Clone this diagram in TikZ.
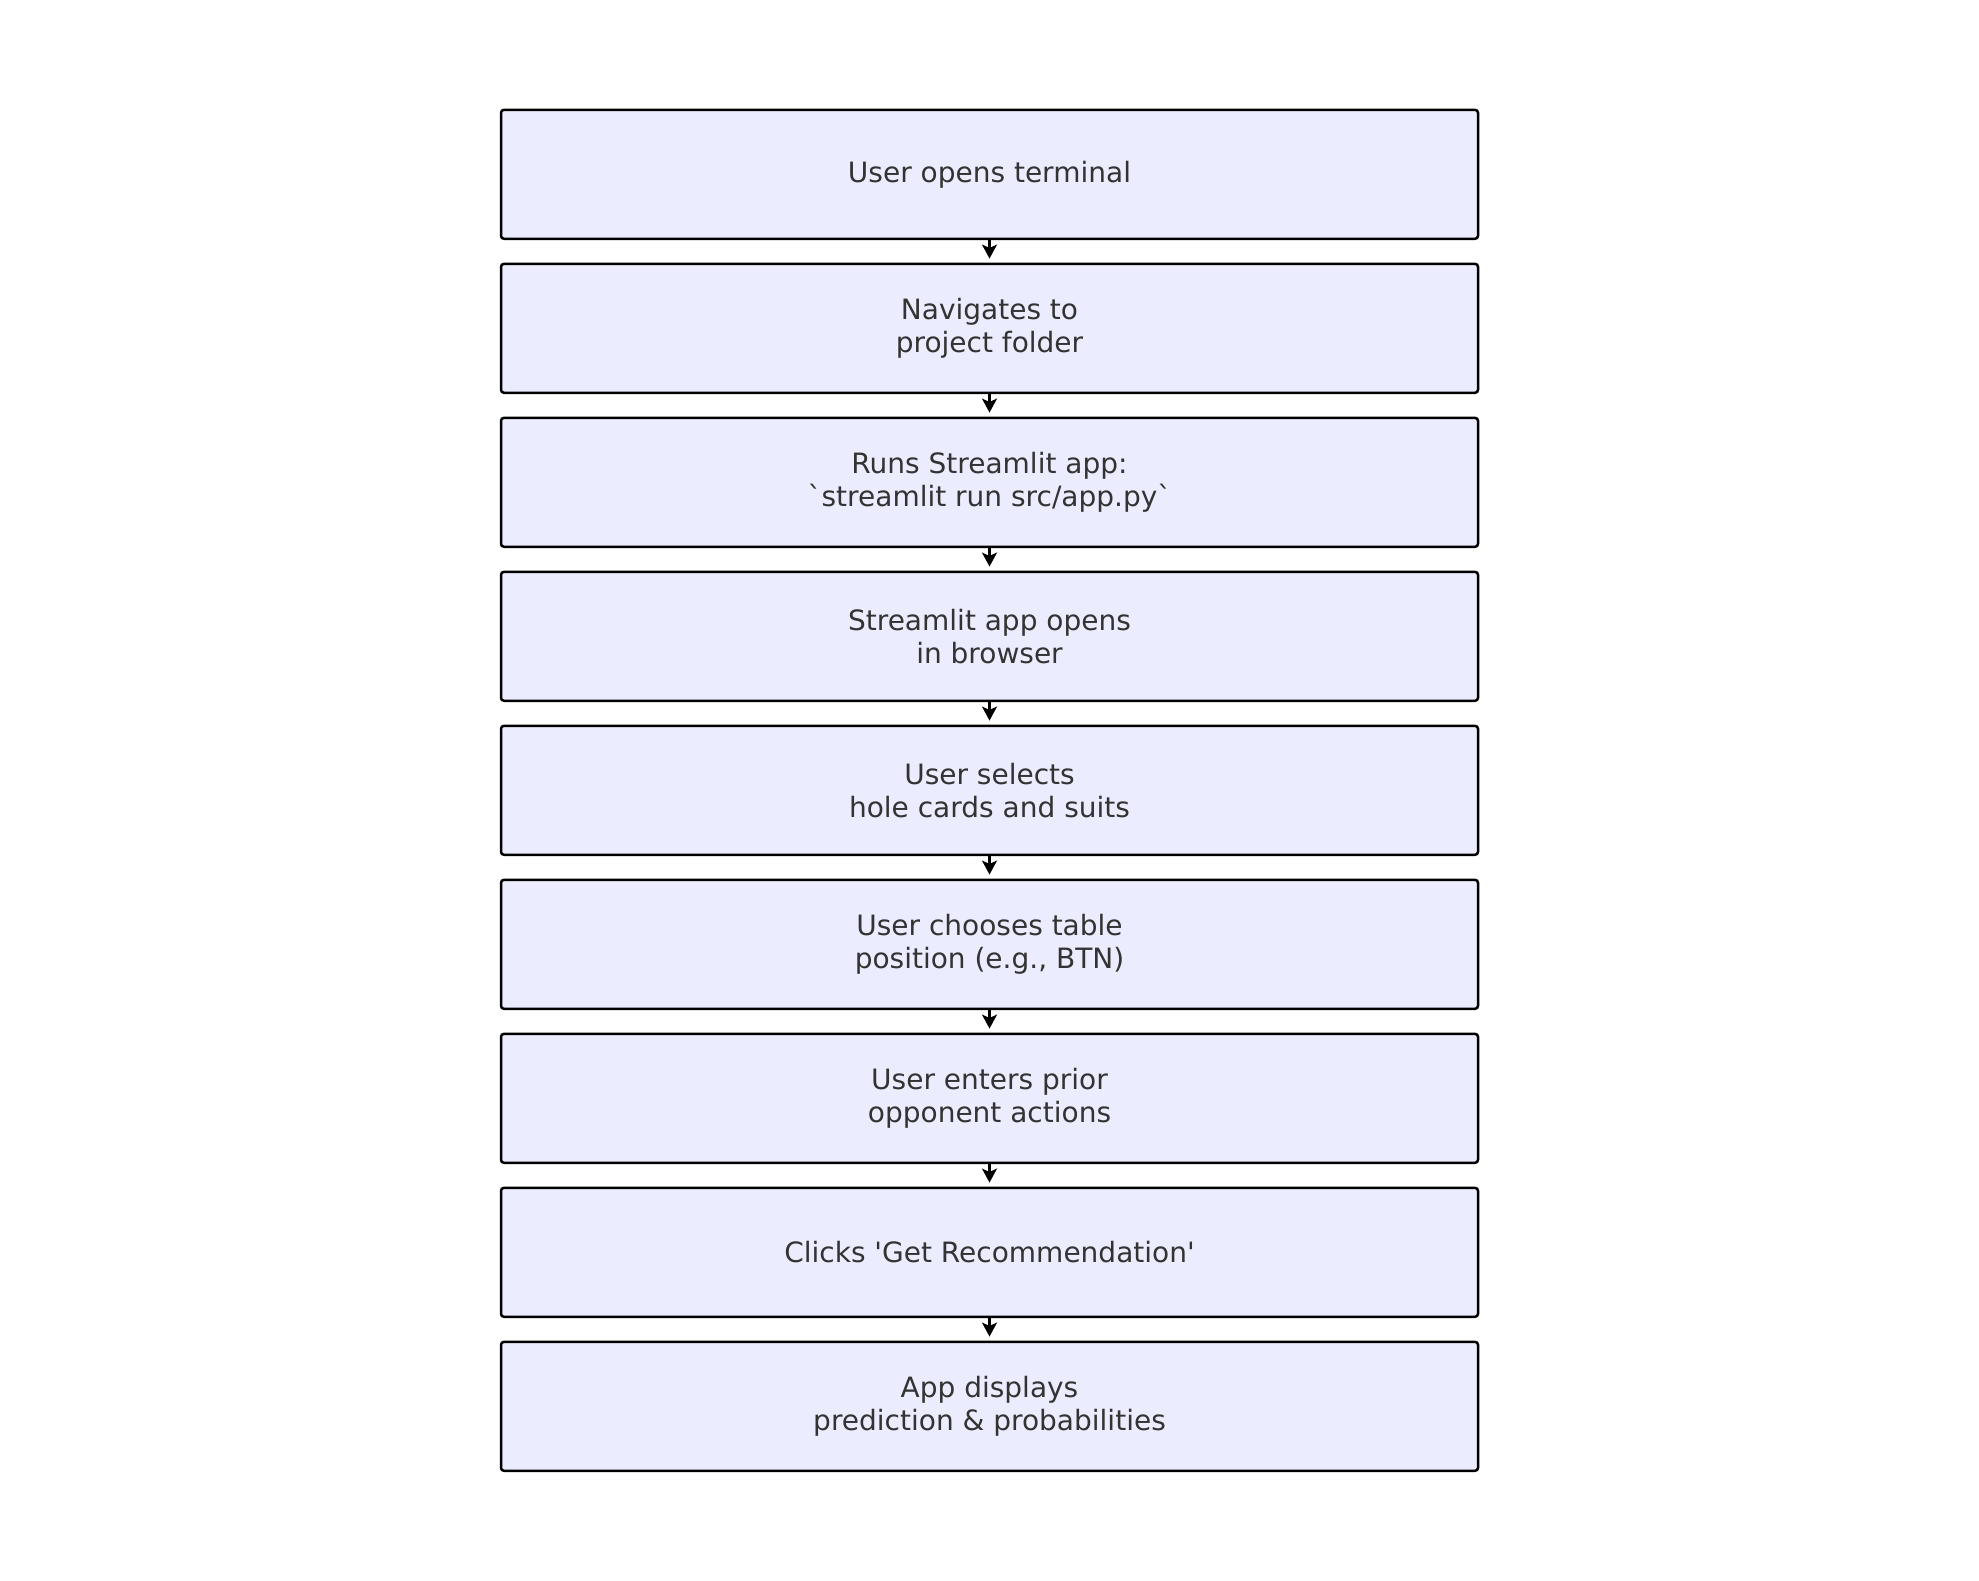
\documentclass[tikz,border=0pt]{standalone}
\usepackage{fontspec}
\setmainfont{DejaVu Sans}
\usetikzlibrary{arrows.meta}
\definecolor{boxfill}{HTML}{ECECFF}
\definecolor{txt}{HTML}{333333}
\begin{document}
\begin{tikzpicture}[x=1pt,y=-1pt,
  stepbox/.style={draw=black, fill=boxfill, line width=2.5pt, rounded corners=3pt,
    minimum width=977pt, minimum height=129pt, inner sep=0pt, align=center,
    text=txt, font=\fontsize{28pt}{33pt}\selectfont},
  flow/.style={line width=3pt, -{Stealth[length=14pt,width=15pt,inset=3.5pt]}, shorten >=4pt}]
\useasboundingbox (0,0) rectangle (1979,1580);
\node[stepbox] (n1) at (989.5,174.3) {User opens terminal};
\node[stepbox] (n2) at (989.5,328.3) {Navigates to\\project folder};
\node[stepbox] (n3) at (989.5,482.3) {Runs Streamlit app:\\\textasciigrave streamlit run src/app.py\textasciigrave};
\node[stepbox] (n4) at (989.5,636.3) {Streamlit app opens\\in browser};
\node[stepbox] (n5) at (989.5,790.3) {User selects\\hole cards and suits};
\node[stepbox] (n6) at (989.5,944.3) {User chooses table\\position (e.g., BTN)};
\node[stepbox] (n7) at (989.5,1098.3) {User enters prior\\opponent actions};
\node[stepbox] (n8) at (989.5,1252.3) {Clicks \textquotesingle Get Recommendation\textquotesingle};
\node[stepbox] (n9) at (989.5,1406.3) {App displays\\prediction \& probabilities};
\foreach \a/\b in {n1/n2,n2/n3,n3/n4,n4/n5,n5/n6,n6/n7,n7/n8,n8/n9}
  \draw[flow] (\a.south) -- (\b.north);
\end{tikzpicture}
\end{document}
